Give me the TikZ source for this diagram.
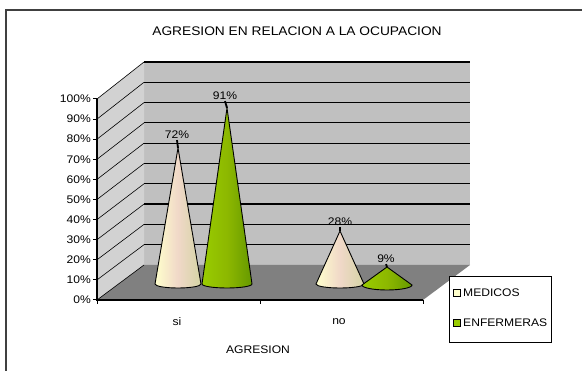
\documentclass[tikz,border=0pt]{standalone}
\usepackage{fontspec}
\newfontfamily\chartfont[FakeStretch=1.1]{Liberation Sans}
\definecolor{wallback}{HTML}{C0C0C0}
\definecolor{wallside}{HTML}{D2D2D2}
\definecolor{floorgray}{HTML}{808080}
\definecolor{medlight}{HTML}{FFFFCC}
\definecolor{medmid}{HTML}{F0D8C8}
\definecolor{meddark}{HTML}{D4D4A4}
\definecolor{enflight}{HTML}{99CC00}
\definecolor{enfmid}{HTML}{8DB800}
\definecolor{enfdark}{HTML}{669900}
\tikzset{
  medicos/.style={left color=medlight,right color=meddark,middle color=medmid,draw=black,line width=0.9pt},
  enfermeras/.style={left color=enflight,right color=enfdark,middle color=enfmid,draw=black,line width=0.9pt},
  leader/.style={line width=1.8pt},
  pct/.style={inner sep=1pt}
}

\begin{document}
\begin{tikzpicture}[x=1pt,y=-1pt,font=\chartfont\fontsize{11}{12}\selectfont]
    \useasboundingbox (0,0) rectangle (582,371);
    \draw[line width=1.5pt,black!75] (6,10) rectangle (600,390);
    \node at (297,31) [font=\chartfont\fontsize{12.5}{14}\selectfont] (title) {AGRESION EN RELACION A LA OCUPACION};
    % walls and floor
    \fill[wallback] (144,62) rectangle (470,265);
    \fill[wallside] (97,300) -- (144,265) -- (144,62) -- (97,99) -- cycle;
    \fill[floorgray] (97,300) -- (423,300) -- (470,265) -- (144,265) -- cycle;
    \foreach \i in {1,...,10}
        \draw[line width=1.2pt] (144,{265-20.3*\i}) -- (470,{265-20.3*\i});
    \foreach \i in {0,...,10}
        \draw[line width=0.6pt] (97,{300-20.1*\i}) -- (144,{265-20.3*\i});
    % axes
    \draw[line width=1.2pt] (97,99) -- (97,300) -- (423,300);
    \foreach \i/\t in {0/0\%,1/10\%,2/20\%,3/30\%,4/40\%,5/50\%,6/60\%,7/70\%,8/80\%,9/90\%,10/100\%} {
        \draw[line width=1pt] (93,{300-20.1*\i}) -- (97,{300-20.1*\i});
        \node at (91,{300-20.1*\i}) [anchor=east,inner sep=0pt] {\t};
    }
    \foreach \x in {97,260,423}
        \draw[line width=1pt] (\x,300) -- (\x,304);
    \node at (177,322) (si) {si};
    \node at (339,322) (no) {no};
    \node at (258,350) (xlabel) {AGRESION};
    % cones
    \coordinate (msi) at (178,148);
    \coordinate (esi) at (227,108);
    \coordinate (mno) at (340,231);
    \coordinate (eno) at (387,267);
    \draw[medicos] (msi) -- (155,284) arc[start angle=180,end angle=360,x radius=23pt,y radius=4pt] -- cycle;
    \draw[enfermeras] (esi) -- (202,284) arc[start angle=180,end angle=360,x radius=25pt,y radius=4pt] -- cycle;
    \draw[medicos] (mno) -- (316,284) arc[start angle=180,end angle=360,x radius=24pt,y radius=4pt] -- cycle;
    \draw[enfermeras] (eno) -- (362,285) arc[start angle=180,end angle=360,x radius=25pt,y radius=5pt] -- cycle;
    \node at (177,135) [pct] (lmsi) {72\%};
    \node at (225,96) [pct] (lesi) {91\%};
    \node at (340,222) [pct] (lmno) {28\%};
    \node at (386,259) [pct] (leno) {9\%};
    \draw[leader] (lmsi.south) -- (msi);
    \draw[leader] (lesi.south) -- (esi);
    \draw[leader] (lmno.south) -- (mno);
    \draw[leader] (leno.south) -- (eno);
    % legend
    \node at (449,276) [draw,line width=1pt,fill=white,anchor=north west,minimum width=102pt,minimum height=66pt] (legend) {};
    \node at (457,293) [draw,fill=medlight,minimum size=7pt,inner sep=0pt] (kmed) {};
    \node at (457,323) [draw,fill=enflight,minimum size=7pt,inner sep=0pt] (kenf) {};
    \node at (463,293) [anchor=west,inner sep=0pt] (tmed) {MEDICOS};
    \node at (463,323) [anchor=west,inner sep=0pt] (tenf) {ENFERMERAS};
\end{tikzpicture}
\end{document}
